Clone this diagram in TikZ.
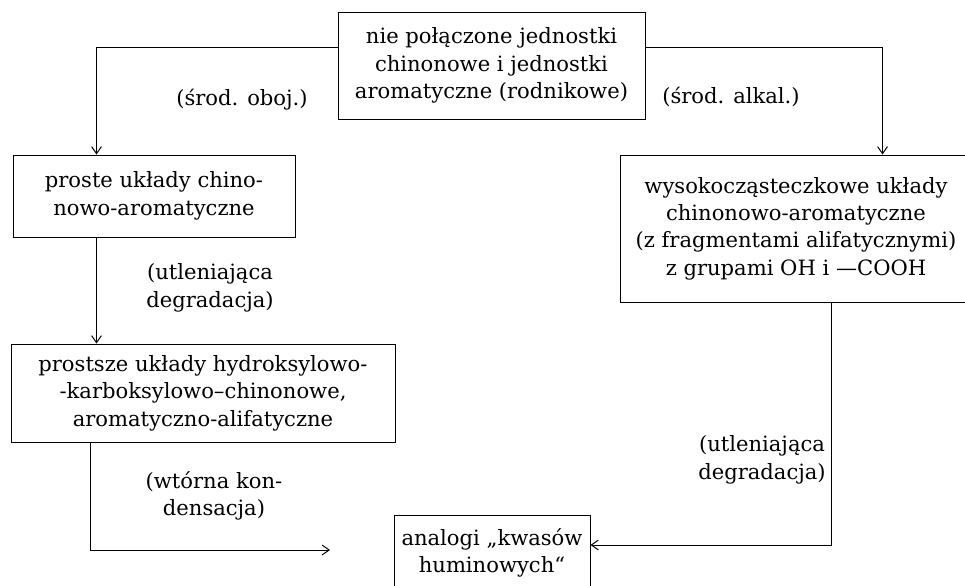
\documentclass[tikz,border=0pt]{standalone}
\usepackage{fontspec}
\setmainfont{DejaVu Serif}
\usetikzlibrary{arrows.meta}
\tikzset{
    box/.style={draw, line width=0.7pt, inner sep=0pt, align=center,
        font=\fontsize{15}{19.5}\selectfont},
    lbl/.style={align=center, inner sep=0pt, font=\fontsize{15}{19.5}\selectfont},
    conn/.style={line width=0.7pt, ->, >={Straight Barb[length=5pt,width=7pt]}}
}
\begin{document}
\begin{tikzpicture}
            \useasboundingbox (0,0) rectangle (24.125,-14.625);
            % boxes
            \node[box, minimum width=7.675cm, minimum height=2.675cm] (top) at (12.2875,-1.6375)
                {nie połączone jednostki\\chinonowe i jednostki\\aromatyczne (rodnikowe)};
            \node[box, minimum width=7.05cm, minimum height=2.05cm] (proste) at (3.85,-4.9)
                {proste układy chino-\\nowo-aromatyczne};
            \node[box, minimum width=9.6cm, minimum height=2.45cm] (prostsze) at (5.075,-9.825)
                {prostsze układy hydroksylowo-\\-karboksylowo–chinonowe,\\aromatyczno-alifatyczne};
            \node[box, minimum width=8.8cm, minimum height=3.675cm] (wysoko) at (19.9,-5.7125)
                {wysokocząsteczkowe układy\\chinonowo-aromatyczne\\(z fragmentami alifatycznymi)\\z grupami OH i —COOH};
            \node[box, minimum width=4.9cm, minimum height=1.9cm] (analogi) at (12.3,-13.825)
                {analogi „kwasów\\huminowych“};
            % labels
            \node[lbl] (oboj) at (6.05,-2.5) {(środ. oboj.)};
            \node[lbl] (alkal) at (18.275,-2.425) {(środ. alkal.)};
            \node[lbl] (utlL) at (5.25,-7.2) {(utleniająca\\degradacja)};
            \node[lbl] (wtorna) at (5.35,-12.4) {(wtórna kon-\\densacja)};
            \node[lbl] (utlR) at (19.05,-11.5) {(utleniająca\\degradacja)};
            % connectors
            \coordinate (a1) at ([xshift=2.1cm]proste.south west);
            \coordinate (a2) at ([xshift=2cm]prostsze.south west);
            \coordinate (a3) at ([xshift=5.3cm]wysoko.south west);
            \coordinate (kond) at (8.25,-13.75);
            \draw[conn] ([yshift=0.45cm]top.west) -| ([xshift=2.1cm]proste.north west);
            \draw[conn] ([yshift=0.45cm]top.east) -| ([xshift=6.575cm]wysoko.north west);
            \draw[conn] (a1) -- (a1 |- prostsze.north);
            \draw[conn] (a2) |- (kond);
            \draw[conn] (a3) |- ([yshift=0.2cm]analogi.east);
        \end{tikzpicture}
\end{document}
